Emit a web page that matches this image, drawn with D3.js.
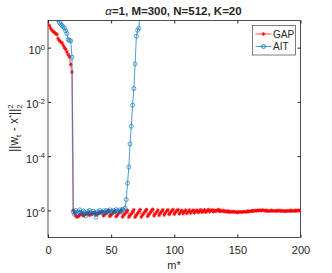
<!DOCTYPE html>
<html>
<head>
<meta charset="utf-8">
<script src="https://cdn.jsdelivr.net/npm/d3@7"></script>
<style>
body { margin: 0; background: #fff; }
text { font-family: "Liberation Sans", Arial, sans-serif; fill: #262626; }
</style>
</head>
<body>
<div id="chart"></div>
<script>
// values are log10 of ||w_t - x*||^2, one per m* = 1, 2, 3, ...
const gapExp = [
  0.82, 0.72, 0.65, 0.60, 0.56, 0.52, 0.49, 0.33, 0.26, 0.21,
  0.18, 0.09, 0.00, -0.06, -0.16, -0.26, -0.34, -0.62, -0.90, -6.00,
  -6.10, -6.20, -6.25, -6.22, -6.18, -6.15, -6.12, -6.20, -6.17, -6.14,
  -6.12, -6.10, -6.18, -6.15, -6.12, -6.10, -6.08, -6.16, -6.14, -6.11,
  -6.09, -6.07, -6.05, -6.20, -6.15, -6.10, -6.05, -6.00, -6.22, -6.17,
  -6.12, -6.07, -6.02, -6.23, -6.17, -6.11, -6.05, -6.00, -6.24, -6.18,
  -6.12, -6.06, -6.00, -6.25, -6.19, -6.12, -6.05, -5.98, -6.25, -6.18,
  -6.11, -6.04, -5.97, -6.24, -6.17, -6.10, -6.03, -5.97, -6.22, -6.15,
  -6.08, -6.01, -5.96, -6.20, -6.13, -6.06, -5.99, -6.18, -6.11, -6.04,
  -5.98, -6.17, -6.10, -6.03, -5.98, -6.15, -6.08, -6.02, -5.97, -6.14,
  -6.07, -6.01, -5.97, -6.13, -6.06, -6.00, -6.12, -6.05, -5.99, -6.11,
  -6.05, -5.99, -6.10, -6.04, -5.99, -6.09, -6.03, -5.99, -6.08, -6.02,
  -5.98, -6.07, -6.02, -5.98, -6.07, -6.02, -5.97, -6.05, -6.01, -5.98,
  -6.05, -6.00, -6.04, -6.00, -5.97, -6.04, -6.00, -6.04, -6.01, -6.05,
  -6.02, -6.06, -6.03, -6.07, -6.04, -6.06, -6.04, -6.07, -6.05, -6.08,
  -6.06, -6.05, -6.07, -6.05, -6.06, -6.04, -6.06, -6.03, -6.05, -6.02,
  -6.04, -6.01, -6.03, -6.00, -6.02, -6.00, -6.01, -5.99, -6.01, -5.99,
  -6.00, -6.02, -6.00, -6.03, -6.01, -6.03, -6.00, -6.02, -6.01, -6.03,
  -6.01, -6.02, -6.00, -6.03, -6.01, -6.02, -6.04, -6.02, -6.03, -6.01,
  -6.03, -6.00, -6.02, -6.01, -6.03, -6.00, -6.02, -6.00, -6.01, -5.99
];
const aitExp = [
  1.70, 1.60, 1.50, 1.40, 1.30, 1.20, 1.10, 1.03, 0.93, 0.87,
  0.82, 0.77, 0.72, 0.62, 0.52, 0.30, 0.27, 0.25, -0.35, -6.05,
  -6.15, -6.00, -6.10, -6.05, -5.98, -6.08, -6.12, -6.02, -6.07, -6.20,
  -6.05, -6.10, -6.00, -6.08, -6.12, -6.03, -6.10, -6.25, -6.05, -6.08,
  -6.00, -6.06, -6.10, -6.02, -6.07, -6.00, -6.04, -6.10, -5.98, -6.03,
  -6.08, -6.00, -6.05, -5.97, -6.02, -6.06, -5.98, -6.03, -5.96, -6.00,
  -5.92, -5.60, -5.00, -4.40, -3.55, -2.90, -2.12, -1.51, -0.60, 0.42,
  0.64, 0.72, 1.30
];
const xTicks = [0, 50, 100, 150, 200];
const yTicks = [1e-6, 1e-4, 1e-2, 1];
const seriesNames = ["GAP", "AIT"];

const width = 332, height = 273;
const padLeft = 48, padRight = 300.5, padTop = 20.5, padBottom = 237.5;

const x = d3.scaleLinear().domain([0, 200]).range([padLeft, padRight]);
const y = d3.scaleLog().domain([1e-7, 1e1]).range([padBottom, padTop]);

const svg = d3.select("#chart").append("svg").attr("width", width).attr("height", height);

svg.append("defs").append("clipPath").attr("id", "plot-clip")
  .append("rect").attr("x", padLeft).attr("y", padTop)
  .attr("width", padRight - padLeft).attr("height", padBottom - padTop);

const gap = gapExp.map((e, i) => ({m: i + 1, v: Math.pow(10, e)}));
const ait = aitExp.map((e, i) => ({m: i + 1, v: Math.pow(10, e)}));

// axes, MATLAB style: ticks inside, box around
svg.append("g").attr("transform", "translate(0," + padBottom + ")")
  .call(d3.axisBottom(x).tickValues(xTicks).tickSizeInner(-3).tickSizeOuter(0).tickPadding(8.5))
  .call(g => g.select(".domain").remove());
svg.append("g").attr("transform", "translate(0," + padTop + ")")
  .call(d3.axisTop(x).tickValues(xTicks).tickSizeInner(-3).tickSizeOuter(0).tickFormat(""))
  .call(g => g.select(".domain").remove());
svg.append("g").attr("transform", "translate(" + padLeft + ",0)")
  .call(d3.axisLeft(y).tickValues(yTicks).tickSizeInner(-3).tickSizeOuter(0).tickPadding(3))
  .call(g => g.select(".domain").remove())
  .call(g => g.selectAll(".tick text").each(function(d) {
    const t = d3.select(this).text("").attr("dy", "0.55em");
    t.append("tspan").text("10");
    t.append("tspan").attr("dy", "-0.6em").attr("font-size", "7.5px").text(Math.round(Math.log10(d)));
  }));
svg.append("g").attr("transform", "translate(" + padRight + ",0)")
  .call(d3.axisRight(y).tickValues(yTicks).tickSizeInner(-3).tickSizeOuter(0).tickFormat(""))
  .call(g => g.select(".domain").remove());
svg.selectAll(".tick line").attr("stroke", "#262626");
svg.selectAll(".tick text").attr("font-size", "11px").attr("fill", "#262626");

svg.append("rect").attr("x", padLeft).attr("y", padTop)
  .attr("width", padRight - padLeft).attr("height", padBottom - padTop)
  .attr("fill", "none").attr("stroke", "#262626").attr("stroke-width", 0.8);

const line = d3.line().x(d => x(d.m)).y(d => y(d.v));
const plot = svg.append("g").attr("clip-path", "url(#plot-clip)");

const starPath = s => {
  const k = s * 0.7;
  return `M${-s},0L${s},0M0,${-s}L0,${s}M${-k},${-k}L${k},${k}M${-k},${k}L${k},${-k}`;
};

plot.append("path").datum(gap).attr("d", line)
  .attr("fill", "none").attr("stroke", "#ff0000").attr("stroke-opacity", 0.45).attr("stroke-width", 1.6);
plot.selectAll(".gap-pt").data(gap).enter().append("path")
  .attr("class", "gap-pt")
  .attr("transform", d => "translate(" + x(d.m) + "," + y(d.v) + ")")
  .attr("d", starPath(1.8))
  .attr("stroke", "#ff0000").attr("stroke-width", 0.9).attr("fill", "none");

plot.append("path").datum(ait).attr("d", line)
  .attr("fill", "none").attr("stroke", "#0072bd").attr("stroke-opacity", 0.7).attr("stroke-width", 1);
plot.selectAll(".ait-pt").data(ait).enter().append("circle")
  .attr("class", "ait-pt")
  .attr("cx", d => x(d.m)).attr("cy", d => y(d.v)).attr("r", 2)
  .attr("stroke", "#0072bd").attr("stroke-opacity", 0.8).attr("stroke-width", 0.8).attr("fill", "none");

// title and labels
svg.append("text").attr("x", 173.5).attr("y", 15).attr("text-anchor", "middle")
  .attr("font-size", "11.5px").attr("font-weight", "bold")
  .call(t => {
    t.append("tspan").attr("font-style", "italic").attr("font-weight", "normal").text("\u03b1");
    t.append("tspan").text("=1, M=300, N=512, K=20");
  });

svg.append("text").attr("x", 174).attr("y", 269).attr("text-anchor", "middle")
  .attr("font-size", "11px").text("m*");

const yl = svg.append("text").attr("transform", "translate(18,128) rotate(-90)")
  .attr("text-anchor", "middle").attr("font-size", "12px");
yl.append("tspan").text("||w");
yl.append("tspan").attr("font-size", "8px").attr("dy", 3).text("t");
yl.append("tspan").attr("dy", -3).text(" - x");
yl.append("tspan").attr("font-size", "8px").attr("dy", -4.5).text("*");
yl.append("tspan").attr("dy", 4.5).text("||");
yl.append("tspan").attr("font-size", "8px").attr("dy", -5.5).text("2");
yl.append("tspan").attr("font-size", "8px").attr("dx", -4.45).attr("dy", 9).text("2");

// legend
const lg = svg.append("g").attr("transform", "translate(252.5,25.5)");
lg.append("rect").attr("width", 43).attr("height", 29.5)
  .attr("fill", "#fff").attr("stroke", "#262626").attr("stroke-width", 0.6);
seriesNames.forEach((name, i) => {
  const cy = 8.5 + i * 12.5;
  const row = lg.append("g").attr("transform", "translate(0," + cy + ")");
  if (i === 0) {
    row.append("line").attr("x1", 3).attr("x2", 19).attr("stroke", "#ff0000")
      .attr("stroke-opacity", 0.45).attr("stroke-width", 1.6);
    row.append("path").attr("transform", "translate(11,0)").attr("d", starPath(1.8))
      .attr("stroke", "#ff0000").attr("stroke-width", 0.9);
  } else {
    row.append("line").attr("x1", 3).attr("x2", 19).attr("stroke", "#0072bd")
      .attr("stroke-opacity", 0.7).attr("stroke-width", 1);
    row.append("circle").attr("cx", 11).attr("r", 2).attr("fill", "none")
      .attr("stroke", "#0072bd").attr("stroke-width", 0.8);
  }
  row.append("text").attr("x", 20.5).attr("y", 3.5).attr("font-size", "10px").text(name);
});
</script>
</body>
</html>
